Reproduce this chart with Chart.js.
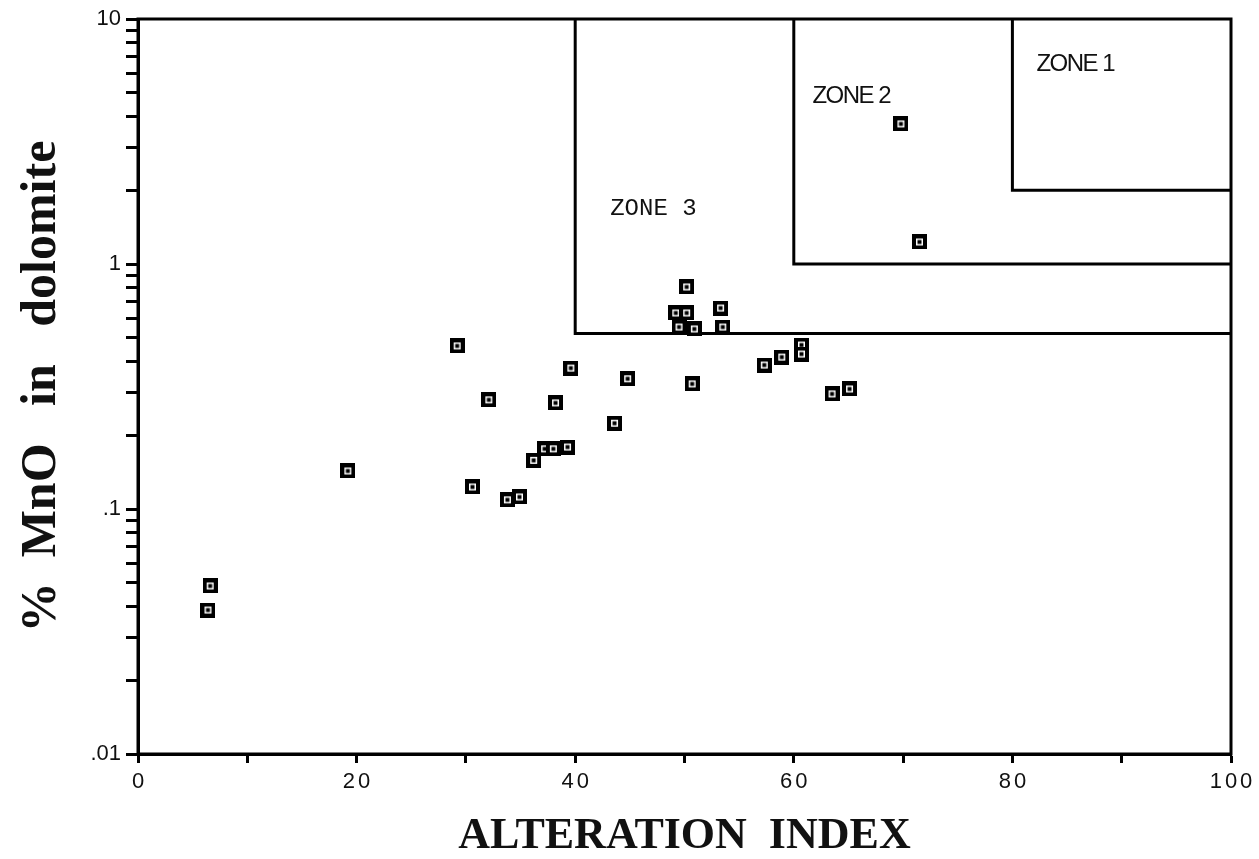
<!DOCTYPE html>
<html>
<head>
<meta charset="utf-8">
<script src="https://cdn.jsdelivr.net/npm/chart.js@4/dist/chart.umd.min.js"></script>
<style>
  html, body { margin: 0; padding: 0; background: #fff; }
  #wrap { width: 1259px; height: 859px; }
</style>
</head>
<body>
<div id="wrap"><canvas id="c" width="1259" height="859"></canvas></div>
<script>
// ---- data ----
const alterationIndex = [6.6, 6.4, 19.2, 29.2, 32.1, 30.6, 33.8, 34.9, 36.2, 37.2, 38.0, 38.2, 39.3, 39.6,
  43.6, 44.8, 49.2, 50.2, 49.5, 50.2, 50.9, 50.7, 53.3, 53.5, 57.3, 58.9, 60.7, 60.7, 63.5, 65.1, 69.8, 71.5];
const mnoPercent = [0.0485, 0.0387, 0.143, 0.463, 0.279, 0.123, 0.109, 0.112, 0.158, 0.176, 0.176, 0.271, 0.179, 0.376,
  0.224, 0.340, 0.631, 0.631, 0.553, 0.806, 0.543, 0.324, 0.661, 0.553, 0.387, 0.417, 0.467, 0.429, 0.295, 0.309, 3.73, 1.23];

// zone boundaries (alteration index, % MnO)
const zone1 = [[80, 10], [80, 2], [100, 2]];
const zone2 = [[60, 10], [60, 1], [100, 1]];
const zone3 = [[40, 10], [40, 0.52], [100, 0.52]];
const zoneLabels = ['ZONE 1', 'ZONE 2', 'ZONE 3'];
const zoneLabelPos = [[82.2, 6.5], [61.7, 4.85], [43.2, 1.69]];

const xTickLabels = [0, 20, 40, 60, 80, 100];
const yTickLabels = ['.01', '.1', '1', '10'];
const yTickValues = [0.01, 0.1, 1, 10];

const xTitle = 'ALTERATION  INDEX';
const yTitle = '%  MnO   in   dolomite';

// ---- marker image ----
function makeMarker() {
  const c = document.createElement('canvas');
  c.width = 15; c.height = 15;
  const g = c.getContext('2d');
  g.fillStyle = '#000'; g.fillRect(0, 0, 15, 15);
  g.fillStyle = '#fff'; g.fillRect(4, 4, 7, 7);
  g.fillStyle = '#000'; g.fillRect(5.5, 5.5, 4, 4);
  return c;
}
const marker = makeMarker();

const toPts = arr => arr.map(p => ({ x: p[0], y: p[1] }));
const zoneDs = (pts) => ({
  type: 'line', data: toPts(pts), showLine: true, borderColor: '#000', borderWidth: 3,
  pointRadius: 0, fill: false, tension: 0, clip: false
});

const framePlugin = {
  id: 'frame',
  beforeDraw(chart) {
    const s = chart.scales.x;
    if (!s._ls) {
      const orig = s.drawLabels;
      s.drawLabels = function (area) {
        const ctx = this.ctx; ctx.save(); ctx.letterSpacing = '3px'; ctx.translate(1.5, 0); orig.call(this, area); ctx.restore();
      };
      s._ls = true;
    }
  },
  afterDatasetsDraw(chart) {
    const { ctx, chartArea: a, scales } = chart;
    ctx.save();
    ctx.strokeStyle = '#000'; ctx.lineWidth = 3;
    ctx.strokeRect(a.left, a.top, a.right - a.left, a.bottom - a.top);
    // zone labels
    ctx.fillStyle = '#111';
    ctx.textBaseline = 'middle'; ctx.textAlign = 'left';
    zoneLabels.forEach((t, i) => {
      const px = scales.x.getPixelForValue(zoneLabelPos[i][0]);
      const py = scales.y.getPixelForValue(zoneLabelPos[i][1]);
      if (i < 2) { ctx.font = '24px "Liberation Sans", Arial, sans-serif'; ctx.letterSpacing = '-1.5px'; }
      else { ctx.font = '24px "Liberation Mono", "Courier New", monospace'; ctx.letterSpacing = '0px'; }
      ctx.fillText(t, px, py);
    });
    ctx.restore();
  }
};

const yTicksAll = [];
[0.01, 0.1, 1].forEach(d => { for (let k = 1; k <= 9; k++) yTicksAll.push(+(k * d).toPrecision(3)); });
yTicksAll.push(10);

new Chart(document.getElementById('c'), {
  type: 'scatter',
  data: {
    datasets: [
      {
        data: alterationIndex.map((x, i) => ({ x, y: mnoPercent[i] })),
        pointStyle: marker, pointRadius: 7.5, pointHoverRadius: 7.5,
        backgroundColor: '#000', borderColor: '#000'
      },
      zoneDs(zone1), zoneDs(zone2), zoneDs(zone3)
    ]
  },
  plugins: [framePlugin],
  options: {
    responsive: false,
    animation: false,
    events: [],
    layout: { padding: { top: 19, right: 28, left: 0, bottom: 0 } },
    plugins: { legend: { display: false }, tooltip: { enabled: false } },
    scales: {
      x: {
        type: 'linear', min: 0, max: 100,
        afterBuildTicks(s) { const t = []; for (let v = 0; v <= 100; v += 10) t.push({ value: v }); s.ticks = t; },
        afterFit(s) { s.height = 105; },
        ticks: {
          autoSkip: false, maxRotation: 0, padding: 6, color: '#111',
          font: { family: '"Liberation Sans", Arial, sans-serif', size: 22 },
          callback: v => xTickLabels.includes(v) ? String(v) : ''
        },
        grid: { drawOnChartArea: false, drawTicks: true, tickLength: 9, tickWidth: 3, tickColor: '#000' },
        border: { display: true, color: '#000', width: 3 },
        title: {
          display: true, text: xTitle, color: '#111',
          font: { family: '"Liberation Serif", "Times New Roman", serif', size: 44, weight: 'bold', lineHeight: 1 },
          padding: { top: 0, bottom: 0 }
        }
      },
      y: {
        type: 'logarithmic', min: 0.01, max: 10,
        afterBuildTicks(s) { s.ticks = yTicksAll.map(v => ({ value: v })); },
        afterFit(s) { s.width = 138; },
        ticks: {
          autoSkip: false, padding: 5, color: '#111',
          font: { family: '"Liberation Sans", Arial, sans-serif', size: 22 },
          callback: v => { const i = yTickValues.findIndex(t => Math.abs(t - v) / t < 1e-6); return i >= 0 ? yTickLabels[i] : ''; }
        },
        grid: { drawOnChartArea: false, drawTicks: true, tickLength: 12, tickWidth: 3, tickColor: '#000' },
        border: { display: true, color: '#000', width: 3 },
        title: {
          display: true, text: yTitle, color: '#111',
          font: { family: '"Liberation Serif", "Times New Roman", serif', size: 50, weight: 'bold', lineHeight: 1 },
          padding: { top: 17, bottom: 0 }
        }
      }
    }
  }
});
</script>
</body>
</html>
